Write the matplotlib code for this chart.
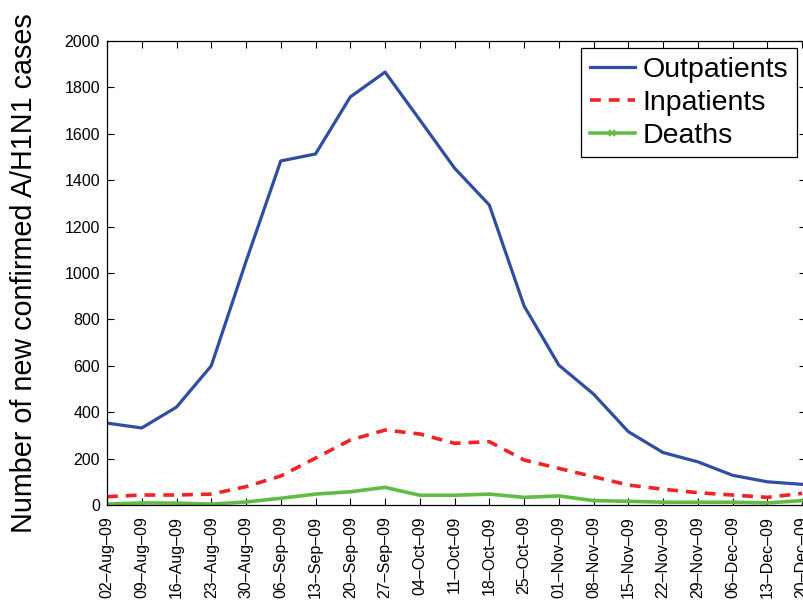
import matplotlib
matplotlib.use("Agg")
import matplotlib.pyplot as plt
from matplotlib.lines import Line2D

plt.rcParams['font.family'] = ['Liberation Sans', 'DejaVu Sans']

dates = ["02–Aug–09", "09–Aug–09", "16–Aug–09", "23–Aug–09", "30–Aug–09",
         "06–Sep–09", "13–Sep–09", "20–Sep–09", "27–Sep–09", "04–Oct–09",
         "11–Oct–09", "18–Oct–09", "25–Oct–09", "01–Nov–09", "08–Nov–09",
         "15–Nov–09", "22–Nov–09", "29–Nov–09", "06–Dec–09", "13–Dec–09",
         "20–Dec–09"]
outpatients = [353, 332, 422, 600, 1050, 1483, 1513, 1759, 1866, 1660,
               1452, 1293, 858, 603, 478, 316, 226, 186, 128, 100, 89]
inpatients = [36, 43, 43, 47, 79, 125, 202, 280, 323, 306,
              266, 273, 194, 158, 122, 86, 68, 53, 43, 33, 50]
deaths = [4, 9, 8, 4, 13, 29, 47, 57, 76, 42,
          42, 47, 33, 39, 19, 16, 12, 12, 12, 9, 19]

blue = "#2f4ea2"
red = "#ee2426"
green = "#62bb46"
dash = (0, (3, 2.2))

fig = plt.figure(figsize=(8.04, 6.0), dpi=100)
ax = fig.add_axes([107/804, 95/600, 1 - 107/804 + 0.002, (505-41)/600])

x = list(range(len(dates)))
ax.plot(x, outpatients, color=blue, lw=2.3)
ax.plot(x, inpatients, color=red, lw=2.6, ls=dash)
ax.plot(x, deaths, color=green, lw=2.6)

ax.set_xlim(0, 20.1)
ax.set_ylim(0, 2000)
ax.set_yticks(range(0, 2001, 200))
ax.set_xticks(x)
ax.set_xticklabels(dates, rotation=90, fontsize=11.5)
ax.tick_params(axis='y', labelsize=11.5, pad=5)
ax.tick_params(direction='in', top=True, right=True, length=5, width=0.8)
ax.tick_params(axis='x', pad=8)
for s in ax.spines.values():
    s.set_linewidth(0.9)

ax.set_ylabel("Number of new confirmed A/H1N1 cases", fontsize=20.7, labelpad=19)

handles = [Line2D([], [], color=blue, lw=2.3),
           Line2D([], [], color=red, lw=2.6, ls=dash),
           Line2D([], [], color=green, lw=2.6, marker='x', markersize=4,
                  markevery=[1], markeredgewidth=1.5)]
leg = ax.legend(handles, ["Outpatients", "Inpatients", "Deaths"],
                loc='upper right', bbox_to_anchor=(0.987, 0.985),
                fontsize=20.5, frameon=True, fancybox=False,
                edgecolor='black', framealpha=1, borderpad=0.3,
                labelspacing=0.25, handlelength=1.6, handletextpad=0.25,
                borderaxespad=0)
leg.get_frame().set_linewidth(0.9)

fig.savefig("out.png", dpi=100)
